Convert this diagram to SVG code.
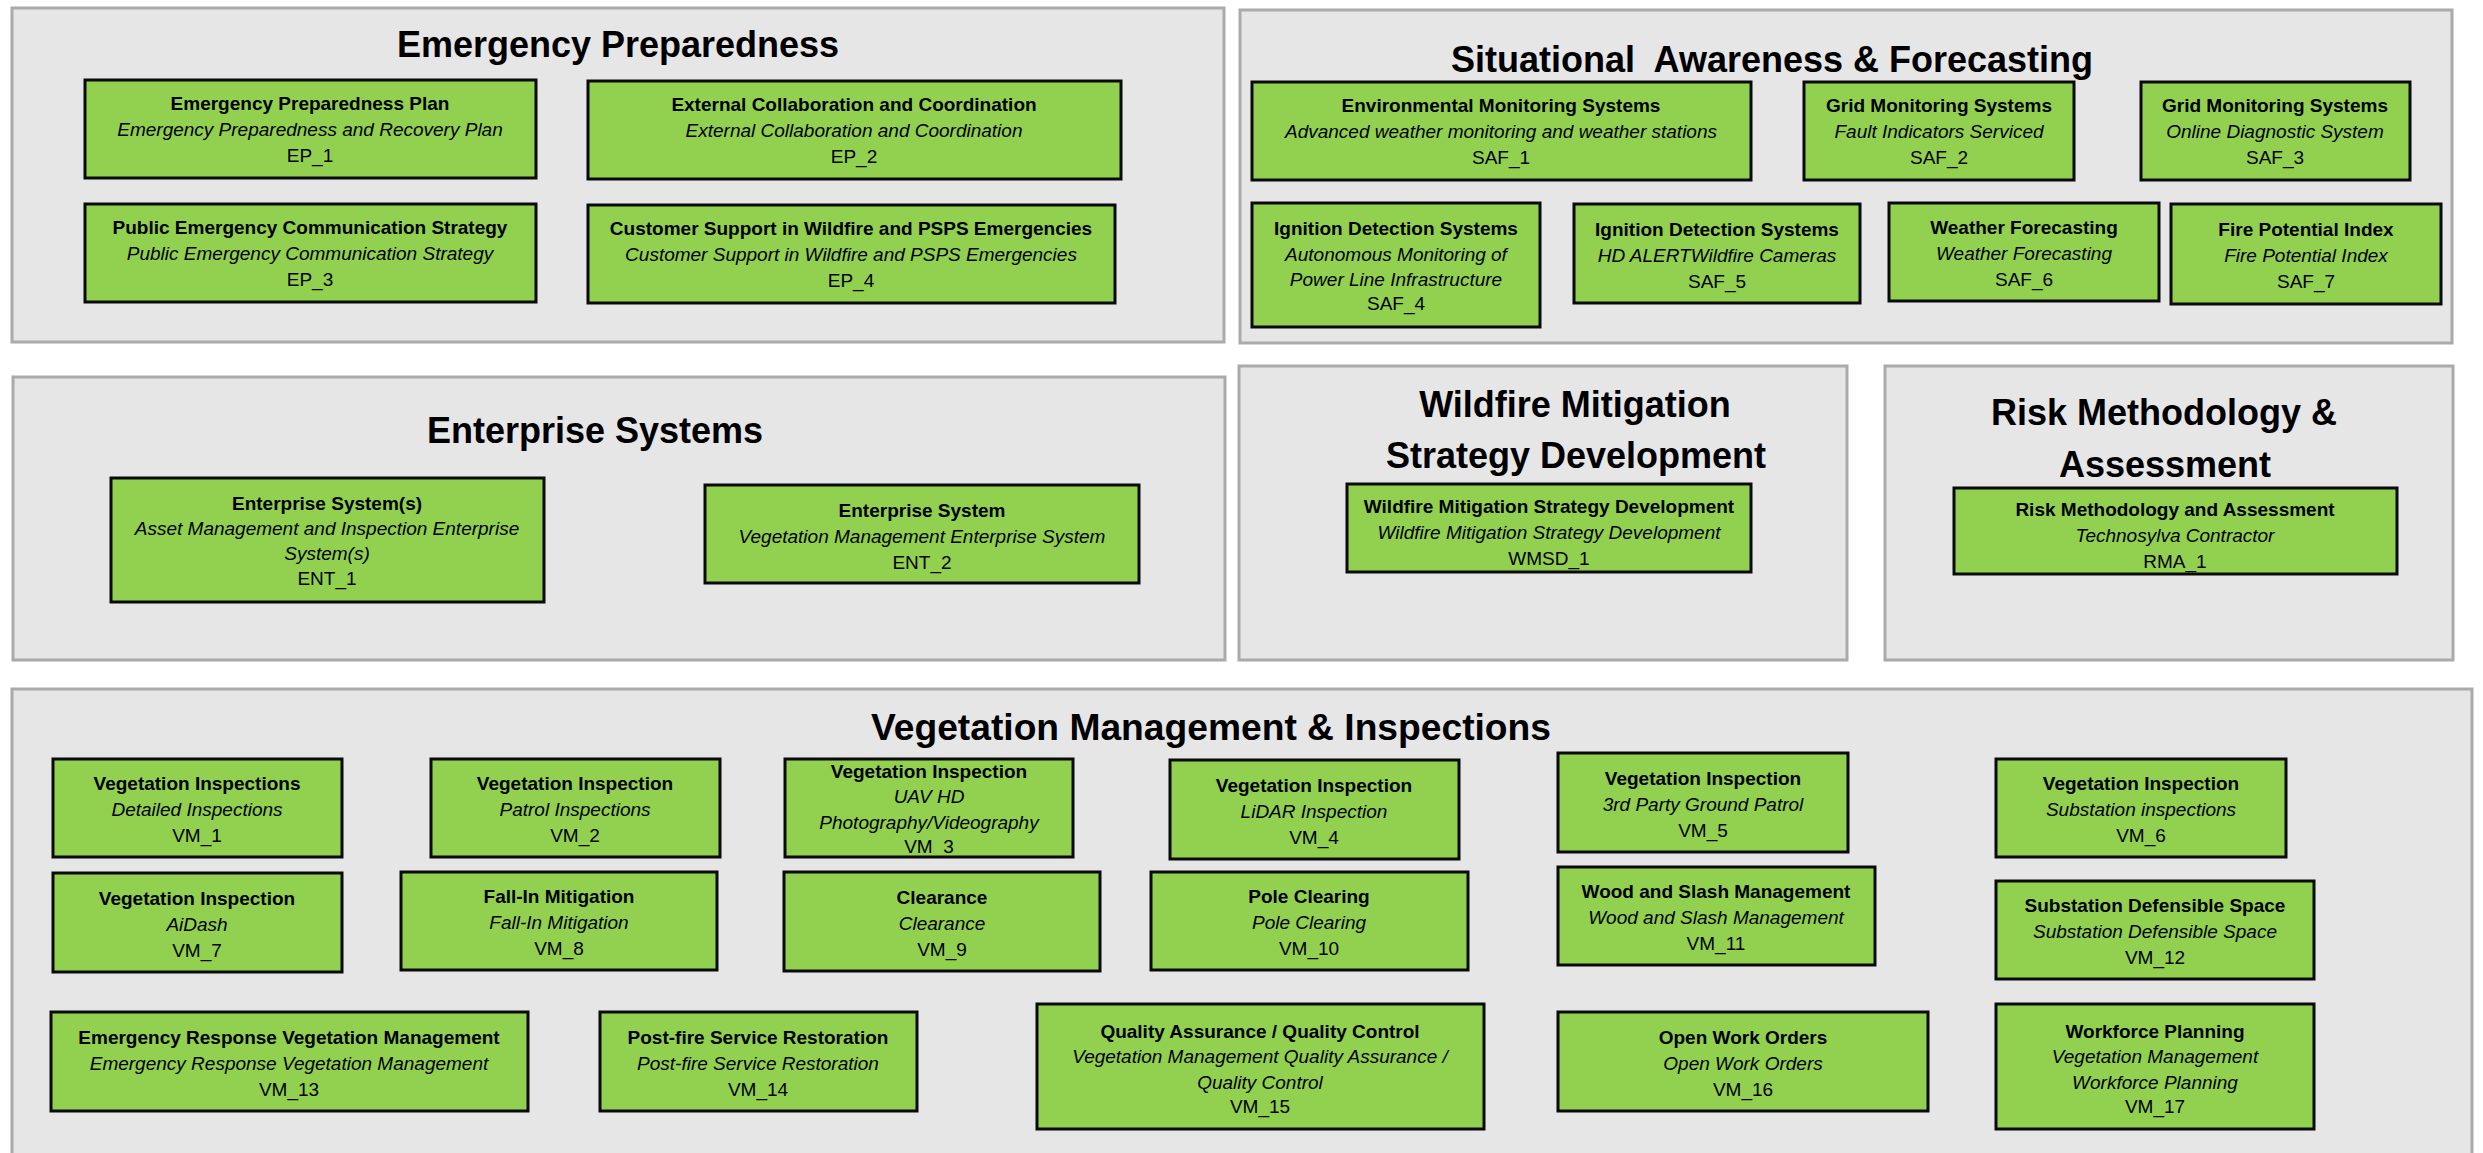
<svg xmlns="http://www.w3.org/2000/svg" width="2483" height="1153" viewBox="0 0 2483 1153">
<style>
.bg{fill:#ffffff}
.panel{fill:#E6E6E6;stroke:#AAAAAA;stroke-width:3}
.node{fill:#92D050;stroke:#0A0A0A;stroke-width:3}
text{font-family:"Liberation Sans",Arial,sans-serif;fill:#000;text-anchor:middle}
.pt{font-size:36px;font-weight:bold}
.b{font-size:19px;font-weight:bold}
.i{font-size:19px;font-style:italic}
.r{font-size:19px}
</style>
<rect class="bg" x="0" y="0" width="2483" height="1153"/>
<g id="panels">
<g id="panel-ep"><rect class="panel" x="12" y="8" width="1212" height="334"/><text class="pt" x="618" y="57">Emergency Preparedness</text></g>
<g id="panel-saf"><rect class="panel" x="1240" y="10" width="1212" height="333"/><text class="pt" x="1772" y="72" xml:space="preserve">Situational  Awareness &amp; Forecasting</text></g>
<g id="panel-ent"><rect class="panel" x="13" y="377" width="1212" height="283"/><text class="pt" x="595" y="443">Enterprise Systems</text></g>
<g id="panel-wmsd"><rect class="panel" x="1239" y="366" width="608" height="294"/><text class="pt" x="1575" y="417">Wildfire Mitigation</text><text class="pt" x="1576" y="468">Strategy Development</text></g>
<g id="panel-rma"><rect class="panel" x="1885" y="366" width="568" height="294"/><text class="pt" x="2164" y="425">Risk Methodology &amp;</text><text class="pt" x="2165" y="477">Assessment</text></g>
<g id="panel-vm"><rect class="panel" x="12" y="689" width="2460" height="500"/><text class="pt" x="1211" y="740" textLength="680" lengthAdjust="spacingAndGlyphs">Vegetation Management &amp; Inspections</text></g>
</g>
<g id="connectors"/>
<g id="nodes">
<g id="EP_1"><rect class="node" x="85" y="80" width="451" height="98"/><text class="b" x="310" y="110">Emergency Preparedness Plan</text><text class="i" x="310" y="136">Emergency Preparedness and Recovery Plan</text><text class="r" x="310" y="162">EP_1</text></g>
<g id="EP_2"><rect class="node" x="588" y="81" width="533" height="98"/><text class="b" x="854" y="111">External Collaboration and Coordination</text><text class="i" x="854" y="137">External Collaboration and Coordination</text><text class="r" x="854" y="163">EP_2</text></g>
<g id="EP_3"><rect class="node" x="85" y="204" width="451" height="98"/><text class="b" x="310" y="234">Public Emergency Communication Strategy</text><text class="i" x="310" y="260">Public Emergency Communication Strategy</text><text class="r" x="310" y="286">EP_3</text></g>
<g id="EP_4"><rect class="node" x="588" y="205" width="527" height="98"/><text class="b" x="851" y="235">Customer Support in Wildfire and PSPS Emergencies</text><text class="i" x="851" y="261">Customer Support in Wildfire and PSPS Emergencies</text><text class="r" x="851" y="287">EP_4</text></g>

<g id="SAF_1"><rect class="node" x="1252" y="82" width="499" height="98"/><text class="b" x="1501" y="112">Environmental Monitoring Systems</text><text class="i" x="1501" y="138">Advanced weather monitoring and weather stations</text><text class="r" x="1501" y="164">SAF_1</text></g>
<g id="SAF_2"><rect class="node" x="1804" y="82" width="270" height="98"/><text class="b" x="1939" y="112">Grid Monitoring Systems</text><text class="i" x="1939" y="138">Fault Indicators Serviced</text><text class="r" x="1939" y="164">SAF_2</text></g>
<g id="SAF_3"><rect class="node" x="2141" y="82" width="269" height="98"/><text class="b" x="2275" y="112">Grid Monitoring Systems</text><text class="i" x="2275" y="138">Online Diagnostic System</text><text class="r" x="2275" y="164">SAF_3</text></g>
<g id="SAF_4"><rect class="node" x="1252" y="203" width="288" height="124"/><text class="b" x="1396" y="235">Ignition Detection Systems</text><text class="i" x="1396" y="261">Autonomous Monitoring of</text><text class="i" x="1396" y="286">Power Line Infrastructure</text><text class="r" x="1396" y="310">SAF_4</text></g>
<g id="SAF_5"><rect class="node" x="1574" y="204" width="286" height="99"/><text class="b" x="1717" y="236">Ignition Detection Systems</text><text class="i" x="1717" y="262">HD ALERTWildfire Cameras</text><text class="r" x="1717" y="288">SAF_5</text></g>
<g id="SAF_6"><rect class="node" x="1889" y="203" width="270" height="98"/><text class="b" x="2024" y="234">Weather Forecasting</text><text class="i" x="2024" y="260">Weather Forecasting</text><text class="r" x="2024" y="286">SAF_6</text></g>
<g id="SAF_7"><rect class="node" x="2171" y="204" width="270" height="100"/><text class="b" x="2306" y="236">Fire Potential Index</text><text class="i" x="2306" y="262">Fire Potential Index</text><text class="r" x="2306" y="288">SAF_7</text></g>

<g id="ENT_1"><rect class="node" x="111" y="478" width="433" height="124"/><text class="b" x="327" y="510">Enterprise System(s)</text><text class="i" x="327" y="535">Asset Management and Inspection Enterprise</text><text class="i" x="327" y="560">System(s)</text><text class="r" x="327" y="585">ENT_1</text></g>
<g id="ENT_2"><rect class="node" x="705" y="485" width="434" height="98"/><text class="b" x="922" y="517">Enterprise System</text><text class="i" x="922" y="543">Vegetation Management Enterprise System</text><text class="r" x="922" y="569">ENT_2</text></g>

<g id="WMSD_1"><rect class="node" x="1347" y="484" width="404" height="88"/><text class="b" x="1549" y="513">Wildfire Mitigation Strategy Development</text><text class="i" x="1549" y="539">Wildfire Mitigation Strategy Development</text><text class="r" x="1549" y="565">WMSD_1</text></g>
<g id="RMA_1"><rect class="node" x="1954" y="488" width="443" height="86"/><text class="b" x="2175" y="516">Risk Methodology and Assessment</text><text class="i" x="2175" y="542">Technosylva Contractor</text><text class="r" x="2175" y="568">RMA_1</text></g>

<g id="VM_1"><rect class="node" x="53" y="759" width="289" height="98"/><text class="b" x="197" y="790">Vegetation Inspections</text><text class="i" x="197" y="816">Detailed Inspections</text><text class="r" x="197" y="842">VM_1</text></g>
<g id="VM_2"><rect class="node" x="431" y="759" width="289" height="98"/><text class="b" x="575" y="790">Vegetation Inspection</text><text class="i" x="575" y="816">Patrol Inspections</text><text class="r" x="575" y="842">VM_2</text></g>
<g id="VM_3"><rect class="node" x="785" y="759" width="288" height="98"/><text class="b" x="929" y="778">Vegetation Inspection</text><text class="i" x="929" y="803">UAV HD</text><text class="i" x="929" y="829">Photography/Videography</text><text class="r" x="929" y="853">VM_3</text></g>
<g id="VM_4"><rect class="node" x="1170" y="760" width="289" height="99"/><text class="b" x="1314" y="792">Vegetation Inspection</text><text class="i" x="1314" y="818">LiDAR Inspection</text><text class="r" x="1314" y="844">VM_4</text></g>
<g id="VM_5"><rect class="node" x="1558" y="753" width="290" height="99"/><text class="b" x="1703" y="785">Vegetation Inspection</text><text class="i" x="1703" y="811">3rd Party Ground Patrol</text><text class="r" x="1703" y="837">VM_5</text></g>
<g id="VM_6"><rect class="node" x="1996" y="759" width="290" height="98"/><text class="b" x="2141" y="790">Vegetation Inspection</text><text class="i" x="2141" y="816">Substation inspections</text><text class="r" x="2141" y="842">VM_6</text></g>
<g id="VM_7"><rect class="node" x="53" y="873" width="289" height="99"/><text class="b" x="197" y="905">Vegetation Inspection</text><text class="i" x="197" y="931">AiDash</text><text class="r" x="197" y="957">VM_7</text></g>
<g id="VM_8"><rect class="node" x="401" y="872" width="316" height="98"/><text class="b" x="559" y="903">Fall-In Mitigation</text><text class="i" x="559" y="929">Fall-In Mitigation</text><text class="r" x="559" y="955">VM_8</text></g>
<g id="VM_9"><rect class="node" x="784" y="872" width="316" height="99"/><text class="b" x="942" y="904">Clearance</text><text class="i" x="942" y="930">Clearance</text><text class="r" x="942" y="956">VM_9</text></g>
<g id="VM_10"><rect class="node" x="1151" y="872" width="317" height="98"/><text class="b" x="1309" y="903">Pole Clearing</text><text class="i" x="1309" y="929">Pole Clearing</text><text class="r" x="1309" y="955">VM_10</text></g>
<g id="VM_11"><rect class="node" x="1558" y="867" width="317" height="98"/><text class="b" x="1716" y="898">Wood and Slash Management</text><text class="i" x="1716" y="924">Wood and Slash Management</text><text class="r" x="1716" y="950">VM_11</text></g>
<g id="VM_12"><rect class="node" x="1996" y="881" width="318" height="98"/><text class="b" x="2155" y="912">Substation Defensible Space</text><text class="i" x="2155" y="938">Substation Defensible Space</text><text class="r" x="2155" y="964">VM_12</text></g>
<g id="VM_13"><rect class="node" x="51" y="1012" width="477" height="99"/><text class="b" x="289" y="1044">Emergency Response Vegetation Management</text><text class="i" x="289" y="1070">Emergency Response Vegetation Management</text><text class="r" x="289" y="1096">VM_13</text></g>
<g id="VM_14"><rect class="node" x="600" y="1012" width="317" height="99"/><text class="b" x="758" y="1044">Post-fire Service Restoration</text><text class="i" x="758" y="1070">Post-fire Service Restoration</text><text class="r" x="758" y="1096">VM_14</text></g>
<g id="VM_15"><rect class="node" x="1037" y="1004" width="447" height="125"/><text class="b" x="1260" y="1038">Quality Assurance / Quality Control</text><text class="i" x="1260" y="1063">Vegetation Management Quality Assurance /</text><text class="i" x="1260" y="1089">Quality Control</text><text class="r" x="1260" y="1113">VM_15</text></g>
<g id="VM_16"><rect class="node" x="1558" y="1012" width="370" height="99"/><text class="b" x="1743" y="1044">Open Work Orders</text><text class="i" x="1743" y="1070">Open Work Orders</text><text class="r" x="1743" y="1096">VM_16</text></g>
<g id="VM_17"><rect class="node" x="1996" y="1004" width="318" height="125"/><text class="b" x="2155" y="1038">Workforce Planning</text><text class="i" x="2155" y="1063">Vegetation Management</text><text class="i" x="2155" y="1089">Workforce Planning</text><text class="r" x="2155" y="1113">VM_17</text></g>
</g>
</svg>
